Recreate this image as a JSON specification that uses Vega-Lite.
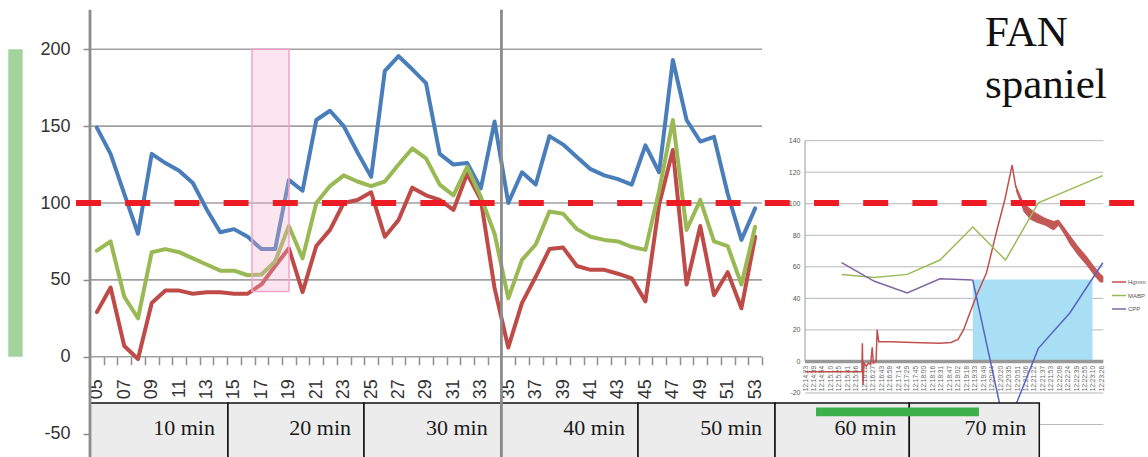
{
  "$schema": "https://vega.github.io/schema/vega-lite/v6.json",
  "width": 1148,
  "height": 457,
  "autosize": "none",
  "padding": 0,
  "background": "white",
  "config": {"view": {"stroke": null}, "axis": {"labelFont": "Liberation Sans"}, "legend": {"labelFont": "Liberation Sans"}},
  "datasets": {
    "main": [
      {"i":5,"blue":149,"green":69,"red":29},
      {"i":6,"blue":132,"green":75,"red":45},
      {"i":7,"blue":106,"green":39,"red":7},
      {"i":8,"blue":80,"green":25,"red":-1.5},
      {"i":9,"blue":132,"green":68,"red":35},
      {"i":10,"blue":126,"green":70,"red":43},
      {"i":11,"blue":121,"green":68,"red":43},
      {"i":12,"blue":113,"green":64,"red":41},
      {"i":13,"blue":96,"green":60,"red":42},
      {"i":14,"blue":81,"green":56,"red":42},
      {"i":15,"blue":83,"green":56,"red":41},
      {"i":16,"blue":78,"green":53,"red":41},
      {"i":17,"blue":70,"green":53.5,"red":47},
      {"i":18,"blue":70,"green":62,"red":59},
      {"i":19,"blue":115,"green":85,"red":70.5},
      {"i":20,"blue":108,"green":64,"red":42},
      {"i":21,"blue":154,"green":100,"red":72},
      {"i":22,"blue":160,"green":111,"red":82.5},
      {"i":23,"blue":150,"green":118,"red":100},
      {"i":24,"blue":133,"green":114,"red":102},
      {"i":25,"blue":117,"green":111,"red":107},
      {"i":26,"blue":186,"green":114,"red":78},
      {"i":27,"blue":195.5,"green":125,"red":89},
      {"i":28,"blue":187,"green":135.5,"red":110},
      {"i":29,"blue":178,"green":129,"red":105},
      {"i":30,"blue":132,"green":112,"red":102},
      {"i":31,"blue":125,"green":105,"red":95.5},
      {"i":32,"blue":126,"green":123.5,"red":119},
      {"i":33,"blue":109.5,"green":104,"red":102},
      {"i":34,"blue":153,"green":80,"red":44.6},
      {"i":35,"blue":100,"green":38,"red":6},
      {"i":36,"blue":120,"green":63,"red":35},
      {"i":37,"blue":112,"green":73,"red":52},
      {"i":38,"blue":143.5,"green":94.5,"red":70},
      {"i":39,"blue":138,"green":93,"red":71},
      {"i":40,"blue":130,"green":83,"red":59},
      {"i":41,"blue":122,"green":78,"red":56.5},
      {"i":42,"blue":118,"green":76,"red":56.5},
      {"i":43,"blue":115.5,"green":75,"red":54},
      {"i":44,"blue":112,"green":71.5,"red":51},
      {"i":45,"blue":137.5,"green":69.5,"red":36},
      {"i":46,"blue":120,"green":108,"red":99},
      {"i":47,"blue":193,"green":154,"red":134.5},
      {"i":48,"blue":154,"green":82.5,"red":47},
      {"i":49,"blue":140,"green":102,"red":85},
      {"i":50,"blue":143,"green":75,"red":40},
      {"i":51,"blue":106,"green":72,"red":55},
      {"i":52,"blue":76,"green":47,"red":31.5},
      {"i":53,"blue":96.5,"green":84.5,"red":78}
    ],
    "mainGrid": [{"g":0},{"g":50},{"g":100},{"g":150},{"g":200}],
    "dividers": [{"x":4.5},{"x":34.5}],
    "boxes": [
      {"a":4.5,"b":14.56,"label":"10 min"},
      {"a":14.56,"b":24.48,"label":"20 min"},
      {"a":24.48,"b":34.45,"label":"30 min"},
      {"a":34.45,"b":44.46,"label":"40 min"},
      {"a":44.46,"b":54.45,"label":"50 min"},
      {"a":54.45,"b":64.24,"label":"60 min"},
      {"a":64.24,"b":73.72,"label":"70 min"}
    ],
    "insetGrid": [{"g":140},{"g":120},{"g":100},{"g":80},{"g":60},{"g":40},{"g":20},{"g":-20},{"g":-40}],
    "mabp": [
      {"t":"12:15:30","v":55.2},{"t":"12:16:30","v":53.3},{"t":"12:17:30","v":55.2},{"t":"12:18:30","v":64.3},
      {"t":"12:19:30","v":85.2},{"t":"12:20:30","v":64.3},{"t":"12:21:30","v":100.6},{"t":"12:23:28","v":117.8}
    ],
    "cpp": [
      {"t":"12:15:30","v":62.6},{"t":"12:16:30","v":50.8},{"t":"12:17:30","v":43.4},{"t":"12:18:30","v":52.4},{"t":"12:19:30","v":51.6}
    ],
    "cpp2": [
      {"t":"12:19:30","v":51.6},{"t":"12:20:30","v":-44},{"t":"12:21:30","v":8.3},{"t":"12:22:28","v":30.9},{"t":"12:23:28","v":62.6}
    ],
    "hg": [
      {"t":"12:14:23","v":-6.5},{"t":"12:16:07","v":-6.5},{"t":"12:16:08","v":11.5},{"t":"12:16:09","v":-15},
      {"t":"12:16:11","v":-1},{"t":"12:16:15","v":-3},{"t":"12:16:19","v":-1},{"t":"12:16:23","v":-2},
      {"t":"12:16:26","v":9},{"t":"12:16:28","v":-1},{"t":"12:16:33","v":0},{"t":"12:16:35","v":20},
      {"t":"12:16:38","v":12.5},{"t":"12:17:00","v":12.5},{"t":"12:17:40","v":12},{"t":"12:18:30","v":11.5},
      {"t":"12:18:50","v":12},{"t":"12:19:03","v":14},{"t":"12:19:13","v":20},{"t":"12:19:25","v":31},
      {"t":"12:19:37","v":42},{"t":"12:19:55","v":56},{"t":"12:20:14","v":83},{"t":"12:20:29","v":103},
      {"t":"12:20:42","v":124.5},{"t":"12:20:49","v":110}
    ],
    "hgBand": [
      {"t":"12:20:49","lo":108,"hi":112},{"t":"12:21:03","lo":95,"hi":101},{"t":"12:21:15","lo":90,"hi":97},
      {"t":"12:21:27","lo":88,"hi":94},{"t":"12:21:43","lo":86,"hi":91},{"t":"12:21:58","lo":83,"hi":89},
      {"t":"12:22:07","lo":86,"hi":90},{"t":"12:22:18","lo":80,"hi":85},{"t":"12:22:28","lo":74,"hi":80},
      {"t":"12:22:43","lo":67,"hi":73},{"t":"12:22:58","lo":61,"hi":67},{"t":"12:23:13","lo":54,"hi":60},
      {"t":"12:23:23","lo":50,"hi":56},{"t":"12:23:29","lo":50,"hi":54}
    ],
    "title": [{"label":"FAN spaniel"}]
  },
  "resolve": {"scale": {"x": "independent", "y": "independent", "color": "independent"}},
  "layer": [
    {
      "layer": [
        {
          "data": {"values": [{}]},
          "mark": {"type": "rect", "color": "#a3d39c"},
          "encoding": {
            "x": {"datum": -1.46, "type": "quantitative", "scale": {"domain": [-2.0625, 81.646], "nice": false, "zero": false},
              "axis": {"orient": "bottom", "offset": -100.3, "values": [5,6,7,8,9,10,11,12,13,14,15,16,17,18,19,20,21,22,23,24,25,26,27,28,29,30,31,32,33,34,35,36,37,38,39,40,41,42,43,44,45,46,47,48,49,50,51,52,53],
                "tickCount": 200, "tickOffset": 6.857, "labelOffset": -6.857, "tickSize": 8, "tickColor": "#8c8c8c", "tickWidth": 1.5,
                "labelAngle": -90, "labelPadding": 14, "labelFontSize": 18, "labelColor": "#333",
                "labelExpr": "datum.value % 2 == 1 ? (datum.value < 10 ? '0' + datum.value : '' + datum.value) : ''",
                "domain": false, "grid": false, "title": null, "labelOverlap": false, "labelFlush": false, "labelBound": false}},
            "x2": {"datum": -0.41},
            "y": {"datum": 0, "type": "quantitative", "scale": {"domain": [-65.26, 232.08], "nice": false, "zero": false},
              "axis": {"orient": "left", "offset": -90, "values": [-50, 0, 50, 100, 150, 200], "tickCount": 50, "tickSize": 7, "tickColor": "#8c8c8c", "tickWidth": 1.5,
                "labelExpr": "'' + datum.value",
                "labelPadding": 13, "labelFontSize": 18, "labelColor": "#333", "domain": false, "grid": false, "title": null, "labelOverlap": false, "labelFlush": false, "labelBound": false}},
            "y2": {"datum": 200}
          }
        },
        {
          "data": {"name": "mainGrid"},
          "mark": {"type": "rule", "color": "#a0a0a0", "strokeWidth": 1.6},
          "encoding": {
            "x": {"datum": 4.5, "type": "quantitative", "scale": {"domain": [-2.0625, 81.646], "nice": false, "zero": false}},
            "x2": {"datum": 53.5},
            "y": {"field": "g", "type": "quantitative", "scale": {"domain": [-65.26, 232.08], "nice": false, "zero": false}}
          }
        },
        {
          "data": {"name": "main"},
          "transform": [{"fold": ["blue", "red", "green"], "as": ["series", "value"]}],
          "mark": {"type": "line", "strokeWidth": 4, "strokeJoin": "round", "strokeCap": "round"},
          "encoding": {
            "x": {"field": "i", "type": "quantitative", "scale": {"domain": [-2.0625, 81.646], "nice": false, "zero": false}},
            "y": {"field": "value", "type": "quantitative", "scale": {"domain": [-65.26, 232.08], "nice": false, "zero": false}},
            "color": {"field": "series", "type": "nominal", "scale": {"domain": ["blue", "red", "green"], "range": ["#4a7ebb", "#be4b48", "#98b954"]}, "legend": null}
          }
        },
        {
          "data": {"values": [{}]},
          "mark": {"type": "rect", "fill": "#f2b0cc", "fillOpacity": 0.32, "stroke": "#f3a3c9", "strokeWidth": 1.5},
          "encoding": {
            "x": {"datum": 16.31, "type": "quantitative", "scale": {"domain": [-2.0625, 81.646], "nice": false, "zero": false}},
            "x2": {"datum": 19.01},
            "y": {"datum": 42.4, "type": "quantitative", "scale": {"domain": [-65.26, 232.08], "nice": false, "zero": false}},
            "y2": {"datum": 200}
          }
        }
      ]
    },
    {
      "layer": [
        {
          "data": {"name": "insetGrid"},
          "mark": {"type": "rule", "color": "#b8b8b8", "strokeWidth": 1},
          "encoding": {
            "x": {"datum": {"year":1900,"month":1,"date":1,"hours":12,"minutes":14,"seconds":23}, "type": "temporal",
              "scale": {"type": "time", "domain": [{"year":1900,"month":1,"date":1,"hours":11,"minutes":49,"seconds":49,"milliseconds":700}, {"year":1900,"month":1,"date":1,"hours":12,"minutes":24,"seconds":50,"milliseconds":700}], "nice": false},
              "axis": {"orient": "bottom", "offset": -95.6, "format": "%H:%M:%S", "labelAngle": -90, "labelFontSize": 6.5, "labelColor": "#666",
                "tickCount": 200, "ticks": false, "domain": false, "grid": false, "labelPadding": 4, "title": null, "labelOverlap": false, "labelFlush": false, "labelBound": false,
                "values": [
                  {"year":1900,"month":1,"date":1,"hours":12,"minutes":14,"seconds":23},{"year":1900,"month":1,"date":1,"hours":12,"minutes":14,"seconds":39},
                  {"year":1900,"month":1,"date":1,"hours":12,"minutes":14,"seconds":54},{"year":1900,"month":1,"date":1,"hours":12,"minutes":15,"seconds":10},
                  {"year":1900,"month":1,"date":1,"hours":12,"minutes":15,"seconds":25},{"year":1900,"month":1,"date":1,"hours":12,"minutes":15,"seconds":41},
                  {"year":1900,"month":1,"date":1,"hours":12,"minutes":15,"seconds":56},{"year":1900,"month":1,"date":1,"hours":12,"minutes":16,"seconds":12},
                  {"year":1900,"month":1,"date":1,"hours":12,"minutes":16,"seconds":27},{"year":1900,"month":1,"date":1,"hours":12,"minutes":16,"seconds":43},
                  {"year":1900,"month":1,"date":1,"hours":12,"minutes":16,"seconds":58},{"year":1900,"month":1,"date":1,"hours":12,"minutes":17,"seconds":14},
                  {"year":1900,"month":1,"date":1,"hours":12,"minutes":17,"seconds":29},{"year":1900,"month":1,"date":1,"hours":12,"minutes":17,"seconds":45},
                  {"year":1900,"month":1,"date":1,"hours":12,"minutes":18,"seconds":0},{"year":1900,"month":1,"date":1,"hours":12,"minutes":18,"seconds":16},
                  {"year":1900,"month":1,"date":1,"hours":12,"minutes":18,"seconds":31},{"year":1900,"month":1,"date":1,"hours":12,"minutes":18,"seconds":47},
                  {"year":1900,"month":1,"date":1,"hours":12,"minutes":19,"seconds":2},{"year":1900,"month":1,"date":1,"hours":12,"minutes":19,"seconds":18},
                  {"year":1900,"month":1,"date":1,"hours":12,"minutes":19,"seconds":33},{"year":1900,"month":1,"date":1,"hours":12,"minutes":19,"seconds":49},
                  {"year":1900,"month":1,"date":1,"hours":12,"minutes":20,"seconds":4},{"year":1900,"month":1,"date":1,"hours":12,"minutes":20,"seconds":20},
                  {"year":1900,"month":1,"date":1,"hours":12,"minutes":20,"seconds":35},{"year":1900,"month":1,"date":1,"hours":12,"minutes":20,"seconds":51},
                  {"year":1900,"month":1,"date":1,"hours":12,"minutes":21,"seconds":6},{"year":1900,"month":1,"date":1,"hours":12,"minutes":21,"seconds":22},
                  {"year":1900,"month":1,"date":1,"hours":12,"minutes":21,"seconds":37},{"year":1900,"month":1,"date":1,"hours":12,"minutes":21,"seconds":53},
                  {"year":1900,"month":1,"date":1,"hours":12,"minutes":22,"seconds":8},{"year":1900,"month":1,"date":1,"hours":12,"minutes":22,"seconds":24},
                  {"year":1900,"month":1,"date":1,"hours":12,"minutes":22,"seconds":39},{"year":1900,"month":1,"date":1,"hours":12,"minutes":22,"seconds":55},
                  {"year":1900,"month":1,"date":1,"hours":12,"minutes":23,"seconds":10},{"year":1900,"month":1,"date":1,"hours":12,"minutes":23,"seconds":26}
                ]}},
            "x2": {"datum": {"year":1900,"month":1,"date":1,"hours":12,"minutes":23,"seconds":29}},
            "y": {"field": "g", "type": "quantitative", "scale": {"domain": [-60.6, 229.2], "nice": false, "zero": false},
              "axis": {"orient": "left", "offset": -805, "values": [-20, 0, 20, 40, 60, 80, 100, 120, 140], "tickCount": 50, "labelExpr": "'' + datum.value", "labelFontSize": 7, "labelColor": "#555",
                "ticks": false, "domain": false, "grid": false, "labelPadding": 5, "title": null, "labelOverlap": false, "labelFlush": false, "labelBound": false}}
          }
        },
        {
          "data": {"values": [{}]},
          "mark": {"type": "rect", "color": "#a9dff5"},
          "encoding": {
            "x": {"datum": {"year":1900,"month":1,"date":1,"hours":12,"minutes":19,"seconds":30}, "type": "temporal",
              "scale": {"type": "time", "domain": [{"year":1900,"month":1,"date":1,"hours":11,"minutes":49,"seconds":49,"milliseconds":700}, {"year":1900,"month":1,"date":1,"hours":12,"minutes":24,"seconds":50,"milliseconds":700}], "nice": false}},
            "x2": {"datum": {"year":1900,"month":1,"date":1,"hours":12,"minutes":23,"seconds":9}},
            "y": {"datum": 0, "type": "quantitative", "scale": {"domain": [-60.6, 229.2], "nice": false, "zero": false}},
            "y2": {"datum": 52}
          }
        },
        {
          "data": {"values": [{}]},
          "mark": {"type": "rule", "color": "#999999", "strokeWidth": 3.5},
          "encoding": {
            "x": {"datum": {"year":1900,"month":1,"date":1,"hours":12,"minutes":14,"seconds":23}, "type": "temporal",
              "scale": {"type": "time", "domain": [{"year":1900,"month":1,"date":1,"hours":11,"minutes":49,"seconds":49,"milliseconds":700}, {"year":1900,"month":1,"date":1,"hours":12,"minutes":24,"seconds":50,"milliseconds":700}], "nice": false}},
            "x2": {"datum": {"year":1900,"month":1,"date":1,"hours":12,"minutes":23,"seconds":29}},
            "y": {"datum": 0, "type": "quantitative", "scale": {"domain": [-60.6, 229.2], "nice": false, "zero": false}}
          }
        },
        {
          "data": {"values": [{}]},
          "mark": {"type": "rule", "color": "#999999", "strokeWidth": 1},
          "encoding": {
            "x": {"datum": {"year":1900,"month":1,"date":1,"hours":12,"minutes":14,"seconds":23}, "type": "temporal",
              "scale": {"type": "time", "domain": [{"year":1900,"month":1,"date":1,"hours":11,"minutes":49,"seconds":49,"milliseconds":700}, {"year":1900,"month":1,"date":1,"hours":12,"minutes":24,"seconds":50,"milliseconds":700}], "nice": false}},
            "y": {"datum": 0, "type": "quantitative", "scale": {"domain": [-60.6, 229.2], "nice": false, "zero": false}},
            "y2": {"datum": 140}
          }
        },
        {
          "data": {"name": "hgBand", "format": {"parse": {"t": "date:'%H:%M:%S'"}}},
          "mark": {"type": "area", "color": "#c0504d", "opacity": 0.95},
          "encoding": {
            "x": {"field": "t", "type": "temporal",
              "scale": {"type": "time", "domain": [{"year":1900,"month":1,"date":1,"hours":11,"minutes":49,"seconds":49,"milliseconds":700}, {"year":1900,"month":1,"date":1,"hours":12,"minutes":24,"seconds":50,"milliseconds":700}], "nice": false}},
            "y": {"field": "lo", "type": "quantitative", "scale": {"domain": [-60.6, 229.2], "nice": false, "zero": false}},
            "y2": {"field": "hi"}
          }
        },
        {
          "data": {"name": "hg", "format": {"parse": {"t": "date:'%H:%M:%S'"}}},
          "mark": {"type": "line", "strokeWidth": 1.5},
          "encoding": {
            "x": {"field": "t", "type": "temporal",
              "scale": {"type": "time", "domain": [{"year":1900,"month":1,"date":1,"hours":11,"minutes":49,"seconds":49,"milliseconds":700}, {"year":1900,"month":1,"date":1,"hours":12,"minutes":24,"seconds":50,"milliseconds":700}], "nice": false}},
            "y": {"field": "v", "type": "quantitative", "scale": {"domain": [-60.6, 229.2], "nice": false, "zero": false}},
            "color": {"datum": "Hgmm", "type": "nominal", "scale": {"domain": ["Hgmm", "MABP", "CPP"], "range": ["#c0504d", "#9bbb59", "#8064a2"]},
              "legend": {"orient": "none", "legendX": 1111, "legendY": 274, "title": null, "symbolType": "stroke", "symbolSize": 196, "symbolStrokeWidth": 1.5,
                "labelFontSize": 6, "labelColor": "#555", "labelOffset": 1, "rowPadding": 2.5, "padding": 0}}
          }
        },
        {
          "data": {"name": "mabp", "format": {"parse": {"t": "date:'%H:%M:%S'"}}},
          "mark": {"type": "line", "strokeWidth": 1.5},
          "encoding": {
            "x": {"field": "t", "type": "temporal",
              "scale": {"type": "time", "domain": [{"year":1900,"month":1,"date":1,"hours":11,"minutes":49,"seconds":49,"milliseconds":700}, {"year":1900,"month":1,"date":1,"hours":12,"minutes":24,"seconds":50,"milliseconds":700}], "nice": false}},
            "y": {"field": "v", "type": "quantitative", "scale": {"domain": [-60.6, 229.2], "nice": false, "zero": false}},
            "color": {"datum": "MABP", "type": "nominal"}
          }
        },
        {
          "data": {"name": "cpp", "format": {"parse": {"t": "date:'%H:%M:%S'"}}},
          "mark": {"type": "line", "strokeWidth": 1.5},
          "encoding": {
            "x": {"field": "t", "type": "temporal",
              "scale": {"type": "time", "domain": [{"year":1900,"month":1,"date":1,"hours":11,"minutes":49,"seconds":49,"milliseconds":700}, {"year":1900,"month":1,"date":1,"hours":12,"minutes":24,"seconds":50,"milliseconds":700}], "nice": false}},
            "y": {"field": "v", "type": "quantitative", "scale": {"domain": [-60.6, 229.2], "nice": false, "zero": false}},
            "color": {"datum": "CPP", "type": "nominal"}
          }
        },
        {
          "data": {"name": "cpp2", "format": {"parse": {"t": "date:'%H:%M:%S'"}}},
          "mark": {"type": "line", "strokeWidth": 1.5, "color": "#5a62c2"},
          "encoding": {
            "x": {"field": "t", "type": "temporal",
              "scale": {"type": "time", "domain": [{"year":1900,"month":1,"date":1,"hours":11,"minutes":49,"seconds":49,"milliseconds":700}, {"year":1900,"month":1,"date":1,"hours":12,"minutes":24,"seconds":50,"milliseconds":700}], "nice": false}},
            "y": {"field": "v", "type": "quantitative", "scale": {"domain": [-60.6, 229.2], "nice": false, "zero": false}}
          }
        }
      ]
    },
    {
      "layer": [
        {
          "data": {"name": "boxes"},
          "mark": {"type": "rect", "fill": "#ececec", "stroke": "#111111", "strokeWidth": 1.5},
          "encoding": {
            "x": {"field": "a", "type": "quantitative", "scale": {"domain": [-2.0625, 81.646], "nice": false, "zero": false}, "axis": null},
            "x2": {"field": "b"},
            "y": {"datum": -30.1, "type": "quantitative", "scale": {"domain": [-65.26, 232.08], "nice": false, "zero": false}, "axis": null},
            "y2": {"datum": -75}
          }
        },
        {
          "data": {"name": "boxes"},
          "mark": {"type": "text", "align": "right", "baseline": "alphabetic", "dx": -13, "font": "Liberation Serif", "fontSize": 22, "color": "#1a1a1a"},
          "encoding": {
            "x": {"field": "b", "type": "quantitative", "scale": {"domain": [-2.0625, 81.646], "nice": false, "zero": false}, "axis": null},
            "y": {"datum": -50.9, "type": "quantitative", "scale": {"domain": [-65.26, 232.08], "nice": false, "zero": false}, "axis": null},
            "text": {"field": "label"}
          }
        },
        {
          "data": {"name": "dividers"},
          "mark": {"type": "rule", "color": "#8c8c8c", "strokeWidth": 2.8},
          "encoding": {
            "x": {"field": "x", "type": "quantitative", "scale": {"domain": [-2.0625, 81.646], "nice": false, "zero": false}, "axis": null},
            "y": {"datum": -75, "type": "quantitative", "scale": {"domain": [-65.26, 232.08], "nice": false, "zero": false}, "axis": null},
            "y2": {"datum": 225.8}
          }
        },
        {
          "data": {"values": [{}]},
          "mark": {"type": "rect", "color": "#3cb04b"},
          "encoding": {
            "x": {"datum": 57.44, "type": "quantitative", "scale": {"domain": [-2.0625, 81.646], "nice": false, "zero": false}, "axis": null},
            "x2": {"datum": 69.32},
            "y": {"datum": -33, "type": "quantitative", "scale": {"domain": [-65.26, 232.08], "nice": false, "zero": false}, "axis": null},
            "y2": {"datum": -38.8}
          }
        },
        {
          "data": {"values": [{}]},
          "mark": {"type": "rule", "color": "#ed1c24", "strokeWidth": 6, "strokeDash": [25, 24.2]},
          "encoding": {
            "x": {"datum": 3.479, "type": "quantitative", "scale": {"domain": [-2.0625, 81.646], "nice": false, "zero": false}, "axis": null},
            "x2": {"datum": 80.63},
            "y": {"datum": 100, "type": "quantitative", "scale": {"domain": [-65.26, 232.08], "nice": false, "zero": false}, "axis": null}
          }
        },
        {
          "data": {"name": "title"},
          "mark": {"type": "text", "align": "left", "baseline": "alphabetic", "font": "Liberation Serif", "fontSize": 43, "lineBreak": " ", "lineHeight": 52, "color": "#111111"},
          "encoding": {
            "x": {"datum": 69.76, "type": "quantitative", "scale": {"domain": [-2.0625, 81.646], "nice": false, "zero": false}, "axis": null},
            "y": {"datum": 202.1, "type": "quantitative", "scale": {"domain": [-65.26, 232.08], "nice": false, "zero": false}, "axis": null},
            "text": {"field": "label"}
          }
        }
      ]
    }
  ]
}
